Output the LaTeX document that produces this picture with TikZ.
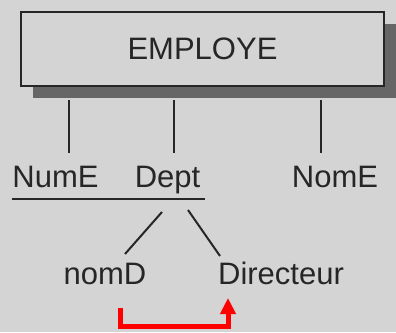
\documentclass[tikz,border=0pt]{standalone}
\usepackage{fontspec}
\setmainfont{Liberation Sans}
\usepackage{tikz}
\usetikzlibrary{shadows}
\usetikzlibrary{arrows.meta}
\usepackage{xcolor}
\definecolor{bggray}{HTML}{D4D4D4}
\definecolor{shadowgray}{HTML}{666666}
\definecolor{inkgray}{HTML}{262626}
\definecolor{refred}{HTML}{FF0000}

\begin{document}
\begin{tikzpicture}[x=1pt, y=-1pt,
entitynode/.style={rectangle, draw=inkgray, fill=bggray, line width=2pt, minimum width=363pt, minimum height=74pt, inner sep=0pt, font=\fontsize{31}{36}\selectfont, text=inkgray, drop shadow={shadow xshift=12pt, shadow yshift=-12pt, fill=shadowgray, opacity=1}},
attrnode/.style={anchor=base, inner sep=0pt, font=\fontsize{31}{36}\selectfont, text=inkgray},
link/.style={draw=inkgray, line width=2.5pt},
refarrow/.style={draw=refred, line width=5pt, -{Triangle[length=16pt, width=15pt]}}]
\useasboundingbox (0,0) rectangle (396,332);
\fill[bggray] (0,0) rectangle (396,332);

\node[entitynode] (employe) at (202.5,49) {EMPLOYE};
\node[attrnode] (nume) at (55.5,187) {NumE};
\node[attrnode] (dept) at (167.5,187) {Dept};
\node[attrnode] (nome) at (335,187) {NomE};
\node[attrnode] (nomd) at (105,284) {nomD};
\node[attrnode] (directeur) at (281,284) {Directeur};

\draw[link] ([xshift=-133.5pt, yshift=-13pt]employe.south) -- ([xshift=13.5pt, yshift=34pt]nume.base);
\draw[link] ([xshift=-28.5pt, yshift=-13pt]employe.south) -- ([xshift=6.5pt, yshift=34pt]dept.base);
\draw[link] ([xshift=118.5pt, yshift=-13pt]employe.south) -- ([xshift=-14pt, yshift=34pt]nome.base);
\draw[link] ([yshift=-12pt]nume.base west) -- ([xshift=5pt, yshift=-12pt]dept.base east);

\draw[link, line width=2pt] ([xshift=-5.5pt, yshift=-25pt]dept.base) -- ([xshift=20pt, yshift=30pt]nomd.base);
\draw[link, line width=2pt] ([xshift=20.5pt, yshift=-23pt]dept.base) -- ([xshift=-61pt, yshift=28pt]directeur.base);

\draw[refarrow] ([xshift=15pt, yshift=-24pt]nomd.base) -- ++(0,18) -| ([xshift=-53pt, yshift=-14pt]directeur.base);
\end{tikzpicture}
\end{document}
